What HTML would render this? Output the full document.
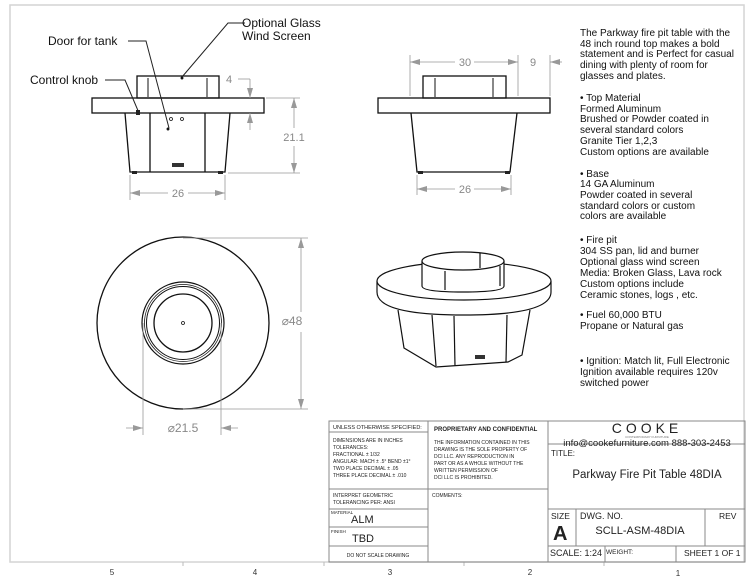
<!DOCTYPE html>
<html><head><style>
html,body{margin:0;padding:0;background:#fff;}
svg{display:block;}
.c{font-family:"Liberation Sans",sans-serif;}
</style></head><body>
<svg width="749" height="579" viewBox="0 0 749 579" xmlns="http://www.w3.org/2000/svg">
<defs>
<marker id="a" viewBox="0 0 10 6" refX="10" refY="3" markerWidth="10" markerHeight="6" orient="auto-start-reverse" markerUnits="userSpaceOnUse"><path d="M0 0 L10 3 L0 6 z" fill="#999"/></marker>
</defs>
<rect width="749" height="579" fill="#fff"/>
<rect x="10" y="5" width="734" height="557" fill="none" stroke="#d4d4d4" stroke-width="1.5"/>
<g stroke="#bbb" stroke-width="1">
<line x1="183" y1="562" x2="183" y2="566"/><line x1="324" y1="562" x2="324" y2="566"/>
<line x1="464" y1="562" x2="464" y2="566"/><line x1="604" y1="562" x2="604" y2="566"/>
</g>
<g class="c" font-size="8" fill="#333" text-anchor="middle">
<text x="112" y="575">5</text><text x="255" y="575">4</text><text x="390" y="575">3</text><text x="530" y="575">2</text><text x="678" y="576">1</text>
</g>

<!-- FRONT VIEW -->
<g fill="none" stroke="#111" stroke-width="1.3">
<rect x="137" y="76" width="82" height="22"/>
<rect x="92" y="98" width="172" height="15"/>
<path d="M125 113 L130 172 L225 172 L230 113"/>
<line x1="150" y1="113" x2="150" y2="172"/><line x1="205" y1="113" x2="205" y2="172"/>
<line x1="148" y1="78" x2="148" y2="97" stroke-width="1"/><line x1="207" y1="78" x2="207" y2="97" stroke-width="1"/>
<circle cx="171" cy="119" r="1.5" stroke-width="0.8"/><circle cx="182" cy="119" r="1.5" stroke-width="0.8"/>
<circle cx="168" cy="129" r="0.8"/><circle cx="182" cy="78" r="0.8"/>
</g>
<rect x="172" y="163" width="12" height="4" fill="#333"/>
<rect x="132" y="171" width="5" height="3" fill="#222"/><rect x="218" y="171" width="5" height="3" fill="#222"/>
<rect x="136" y="110" width="4" height="5" fill="#222"/>
<g fill="none" stroke="#222" stroke-width="1">
<polyline points="128,41 146,41 169,128"/>
<polyline points="105,80 125,80 139,113"/>
<polyline points="245,23 228,23 182,77"/>
</g>
<g class="c" font-size="12" fill="#111">
<text x="48" y="45">Door for tank</text>
<text x="30" y="84">Control knob</text>
<text x="242" y="27">Optional Glass</text>
<text x="242" y="40">Wind Screen</text>
</g>
<g stroke="#999" stroke-width="0.8" fill="none">
<line x1="130" y1="175" x2="130" y2="200"/><line x1="225" y1="175" x2="225" y2="200"/>
<line x1="168" y1="193" x2="130" y2="193" marker-end="url(#a)"/><line x1="188" y1="193" x2="225" y2="193" marker-end="url(#a)"/>
<line x1="266" y1="98" x2="300" y2="98"/><line x1="228" y1="173" x2="300" y2="173"/>
<line x1="294" y1="128" x2="294" y2="98" marker-end="url(#a)"/><line x1="294" y1="146" x2="294" y2="173" marker-end="url(#a)"/>
<line x1="238" y1="79" x2="250" y2="79"/><line x1="250" y1="79" x2="250" y2="98" marker-end="url(#a)"/><line x1="250" y1="130" x2="250" y2="113" marker-end="url(#a)"/>
</g>
<g class="c" font-size="11" fill="#888" text-anchor="middle">
<text x="178" y="197">26</text><text x="294" y="141">21.1</text><text x="229" y="83">4</text>
</g>

<!-- SIDE VIEW -->
<g fill="none" stroke="#111" stroke-width="1.3">
<rect x="423" y="76" width="83" height="22"/>
<rect x="378" y="98" width="172" height="15"/>
<path d="M411 113 L417 172 L510 172 L517 113"/>
<line x1="435" y1="78" x2="435" y2="97" stroke-width="1"/><line x1="493" y1="78" x2="493" y2="97" stroke-width="1"/>
</g>
<rect x="418" y="171" width="5" height="3" fill="#222"/><rect x="505" y="171" width="5" height="3" fill="#222"/>
<g stroke="#999" stroke-width="0.8" fill="none">
<line x1="410" y1="55" x2="410" y2="96"/><line x1="518" y1="55" x2="518" y2="96"/>
<line x1="455" y1="62" x2="410" y2="62" marker-end="url(#a)"/><line x1="474" y1="62" x2="518" y2="62" marker-end="url(#a)"/>
<line x1="550" y1="55" x2="550" y2="96"/><line x1="562" y1="62" x2="550" y2="62" marker-end="url(#a)"/>
<line x1="417" y1="175" x2="417" y2="195"/><line x1="511" y1="175" x2="511" y2="195"/>
<line x1="455" y1="189" x2="417" y2="189" marker-end="url(#a)"/><line x1="474" y1="189" x2="511" y2="189" marker-end="url(#a)"/>
</g>
<g class="c" font-size="11" fill="#888" text-anchor="middle">
<text x="465" y="66">30</text><text x="533" y="66">9</text><text x="465" y="193">26</text>
</g>

<!-- TOP VIEW -->
<g fill="none" stroke="#111">
<circle cx="183" cy="323" r="86" stroke-width="1.3"/>
<circle cx="183" cy="323" r="41" stroke-width="1.2"/>
<circle cx="183" cy="323" r="38.5" stroke-width="0.8"/>
<circle cx="183" cy="323" r="36.5" stroke-width="1"/>
<circle cx="183" cy="323" r="29" stroke-width="1.3"/>
<circle cx="183" cy="323" r="1.5" stroke-width="0.8"/>
</g>
<g stroke="#999" stroke-width="0.8" fill="none">
<line x1="183" y1="238" x2="308" y2="238"/><line x1="183" y1="409" x2="308" y2="409"/>
<line x1="301" y1="312" x2="301" y2="238" marker-end="url(#a)"/><line x1="301" y1="332" x2="301" y2="409" marker-end="url(#a)"/>
<line x1="143" y1="323" x2="143" y2="435"/><line x1="221" y1="323" x2="221" y2="435"/>
<line x1="126" y1="428" x2="143" y2="428" marker-end="url(#a)"/><line x1="238" y1="428" x2="221" y2="428" marker-end="url(#a)"/>
</g>
<g class="c" font-size="12" fill="#888" text-anchor="middle">
<text x="292" y="325">⌀48</text><text x="183" y="432">⌀21.5</text>
</g>

<!-- ISO VIEW -->
<g fill="none" stroke="#111" stroke-width="1.2">
<path d="M398 310 L404 348 L436 367 L508 362 L522 355 L530 310"/>
<line x1="432" y1="315" x2="436" y2="366"/><line x1="454" y1="316" x2="455" y2="366"/>
<line x1="507" y1="315" x2="506" y2="362"/>
<path d="M377 281 L377 292 Q377 315 464 315 Q551 315 551 292 L551 281" fill="#fff"/>
<ellipse cx="464" cy="281" rx="87" ry="19" fill="#fff"/>
<path d="M422 261 L422 286 Q422 292 463 292 Q504 292 504 286 L504 261" fill="#fff"/>
<ellipse cx="463" cy="261" rx="41" ry="9" fill="#fff"/>
<line x1="445" y1="271" x2="445" y2="290"/><line x1="480" y1="253" x2="480" y2="268"/><line x1="500" y1="266" x2="500" y2="286"/>
</g>
<rect x="475" y="355" width="10" height="4" fill="#333"/>

<!-- DESCRIPTION -->
<g class="c" font-size="10" fill="#111">
<text x="580" y="36">The Parkway fire pit table with the</text>
<text x="580" y="47">48 inch round top makes a bold</text>
<text x="580" y="57">statement and is Perfect for casual</text>
<text x="580" y="68">dining with plenty of room for</text>
<text x="580" y="79">glasses and plates.</text>
<text x="580" y="101">• Top Material</text>
<text x="580" y="112">Formed Aluminum</text>
<text x="580" y="122">Brushed or Powder coated in</text>
<text x="580" y="133">several standard colors</text>
<text x="580" y="144">Granite Tier 1,2,3</text>
<text x="580" y="155">Custom options are available</text>
<text x="580" y="177">• Base</text>
<text x="580" y="187">14 GA Aluminum</text>
<text x="580" y="198">Powder coated in several</text>
<text x="580" y="209">standard colors or custom</text>
<text x="580" y="219">colors are available</text>
<text x="580" y="243">• Fire pit</text>
<text x="580" y="254">304 SS pan, lid and burner</text>
<text x="580" y="265">Optional glass wind screen</text>
<text x="580" y="276">Media: Broken Glass, Lava rock</text>
<text x="580" y="287">Custom options include</text>
<text x="580" y="298">Ceramic stones, logs , etc.</text>
<text x="580" y="318">• Fuel 60,000 BTU</text>
<text x="580" y="329">Propane or Natural gas</text>
<text x="580" y="364">•  Ignition: Match lit, Full Electronic</text>
<text x="580" y="375">Ignition available requires 120v</text>
<text x="580" y="386">switched power</text>
</g>

<!-- TITLE BLOCK -->
<g stroke="#888" stroke-width="1" fill="none">
<rect x="329" y="421" width="416" height="141"/>
<line x1="428" y1="421" x2="428" y2="562"/>
<line x1="548" y1="421" x2="548" y2="562"/>
<line x1="329" y1="432" x2="428" y2="432"/>
<line x1="329" y1="489" x2="548" y2="489"/>
<line x1="329" y1="509" x2="428" y2="509"/>
<line x1="329" y1="527" x2="428" y2="527"/>
<line x1="329" y1="546" x2="428" y2="546"/>
<line x1="548" y1="444" x2="745" y2="444"/>
<line x1="548" y1="509" x2="745" y2="509"/>
<line x1="548" y1="546" x2="745" y2="546"/>
<line x1="576" y1="509" x2="576" y2="546"/>
<line x1="705" y1="509" x2="705" y2="546"/>
<line x1="605" y1="546" x2="605" y2="562"/>
<line x1="676" y1="546" x2="676" y2="562"/>
</g>
<g class="c" fill="#222">
<text x="333" y="429" font-size="5.5">UNLESS OTHERWISE SPECIFIED:</text>
<text x="333" y="442" font-size="5">DIMENSIONS ARE IN INCHES</text>
<text x="333" y="449" font-size="5">TOLERANCES:</text>
<text x="333" y="456" font-size="5">FRACTIONAL ± 1/32</text>
<text x="333" y="463" font-size="5">ANGULAR: MACH ± .5° BEND ±1°</text>
<text x="333" y="470" font-size="5">TWO PLACE DECIMAL   ± .05</text>
<text x="333" y="477" font-size="5">THREE PLACE DECIMAL  ± .010</text>
<text x="333" y="497" font-size="5">INTERPRET GEOMETRIC</text>
<text x="333" y="504" font-size="5">TOLERANCING PER: ANSI</text>
<text x="331" y="514" font-size="4.5">MATERIAL</text>
<text x="351" y="523" font-size="11">ALM</text>
<text x="331" y="533" font-size="4.5">FINISH</text>
<text x="352" y="542" font-size="11">TBD</text>
<text x="378" y="557" font-size="5" text-anchor="middle">DO NOT SCALE DRAWING</text>
<text x="434" y="431" font-size="6" font-weight="bold">PROPRIETARY AND CONFIDENTIAL</text>
<text x="434" y="444" font-size="5">THE INFORMATION CONTAINED IN THIS</text>
<text x="434" y="451" font-size="5">DRAWING IS THE SOLE PROPERTY OF</text>
<text x="434" y="458" font-size="5">DCI LLC.  ANY REPRODUCTION IN</text>
<text x="434" y="465" font-size="5">PART OR AS A WHOLE WITHOUT THE</text>
<text x="434" y="472" font-size="5">WRITTEN PERMISSION OF</text>
<text x="434" y="479" font-size="5">DCI LLC IS PROHIBITED.</text>
<text x="432" y="497" font-size="5">COMMENTS:</text>
<text x="647" y="433" font-size="14" text-anchor="middle" letter-spacing="4">COOKE</text>
<text x="647" y="438" font-size="3" text-anchor="middle" fill="#777">CONTEMPORARY FURNITURE</text>
<text x="647" y="446" font-size="9.5" text-anchor="middle">info@cookefurniture.com 888-303-2453</text>
<text x="551" y="456" font-size="8">TITLE:</text>
<text x="647" y="478" font-size="11.5" text-anchor="middle">Parkway Fire Pit Table 48DIA</text>
<text x="551" y="519" font-size="8.5">SIZE</text>
<text x="553" y="540" font-size="20" font-weight="bold">A</text>
<text x="580" y="519" font-size="9">DWG.  NO.</text>
<text x="640" y="534" font-size="11" text-anchor="middle">SCLL-ASM-48DIA</text>
<text x="719" y="519" font-size="8.5">REV</text>
<text x="550" y="556" font-size="9">SCALE: 1:24</text>
<text x="606" y="554" font-size="6.5">WEIGHT:</text>
<text x="684" y="556" font-size="8.5">SHEET 1 OF 1</text>
</g>
</svg>
</body></html>
